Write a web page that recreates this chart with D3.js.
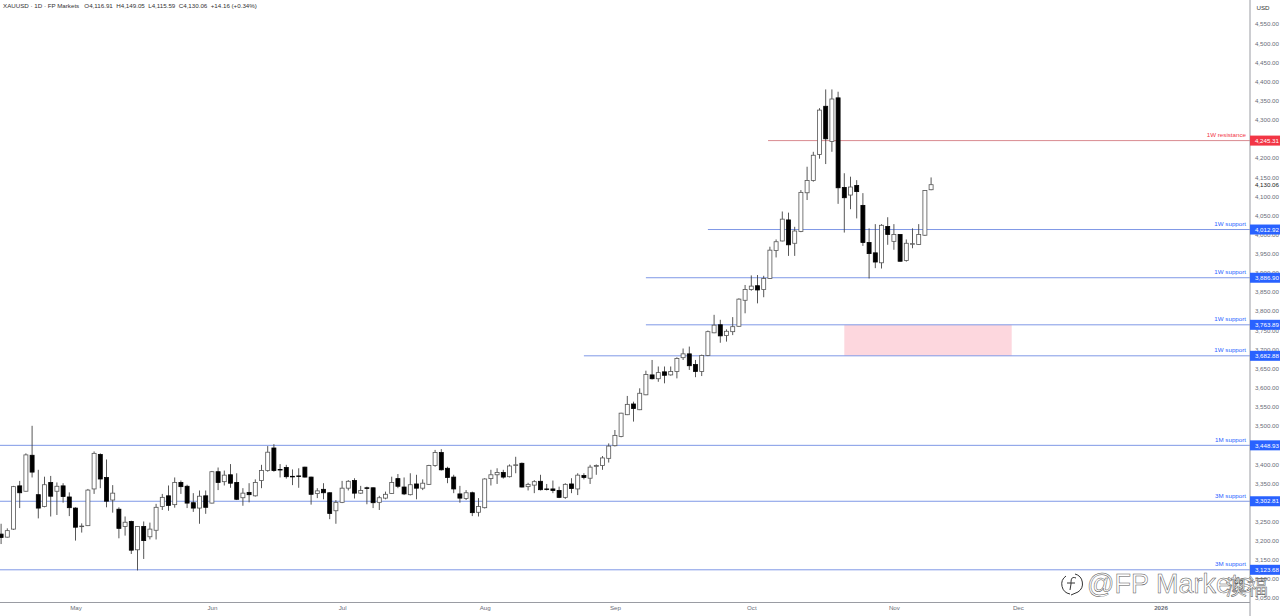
<!DOCTYPE html>
<head>
  <meta charset="utf-8">
  <script src="https://cdn.jsdelivr.net/npm/d3@7/dist/d3.min.js"></script>
  <style>
    html, body { margin: 0; padding: 0; background: #fff; overflow: hidden; }
    text { font-family: "Liberation Sans", Arial, sans-serif; }
    .axis text { font-size: 6.2px; fill: #6a6d78; }
    .axis path, .axis line { display: none; }
  </style>
</head>
<body>
  <script>
    // daily candles, first one sits half cut off at the left edge
    var opens = [
      3217,3209,3230,3343,3329,3423,3320,3289,3352,3329,3343,3314,3285,3237,3239,3335,3425,3365,3306,3282,3237,3250,3176,3237,3210,3227,3289,3317,3294,3352,3342,3299,3285,3317,3298,3380,3354,3372,3352,
      3312,3326,3317,3357,3383,3442,3386,3391,3368,3369,3392,3366,3323,3334,3325,3278,3300,3337,3357,3324,3338,3338,3300,3311,3323,3362,3340,3320,3348,3337,3347,3396,3430,3389,3366,3322,3310,3325,3274,
      3286,3362,3372,3378,3367,3397,3402,3341,3345,3355,3335,3335,3331,3313,3348,3335,3370,3363,3394,3396,3415,3448,3472,3529,3557,3542,3581,3633,3623,3641,3633,3642,3678,3688,3660,3642,3684,
      3743,3764,3736,3746,3760,3828,3856,3866,3856,3885,3958,3983,4038,3977,4008,
      4109,4141,4209,4335,4243,4357,4123,4103,4128,4076,3979,3952,3926,4021,3982,4000,3932,3975,3974,3998,4116.91
    ];
    var highs = [
      3244,3232,3343,3356,3428,3500,3385,3367,3369,3352,3350,3326,3287,3245,3335,3433,3428,3412,3345,3287,3263,3252,3238,3250,3247,3296,3322,3344,3365,3357,3346,3324,3331,3331,3382,3391,3383,3400,3376,
      3337,3350,3360,3398,3447,3452,3400,3398,3386,3389,3393,3367,3337,3350,3326,3306,3356,3358,3363,3343,3341,3339,3317,3328,3367,3374,3365,3376,3372,3360,3398,3437,3439,3393,3372,3343,3332,3328,3311,
      3363,3385,3389,3385,3399,3419,3404,3351,3358,3372,3348,3357,3341,3350,3363,3376,3376,3398,3399,3421,3454,3489,3534,3578,3563,3598,3644,3672,3655,3655,3655,3679,3702,3707,3672,3686,3749,
      3790,3777,3752,3784,3833,3868,3893,3894,3892,3968,3987,4060,4057,4020,4116,
      4177,4216,4330,4379,4379,4373,4160,4151,4142,4108,4016,4027,4027,4045,4027,4001,3987,4016,4027,4116,4149.05
    ];
    var lows = [
      3191,3208,3228,3285,3328,3365,3258,3287,3263,3267,3299,3264,3200,3221,3238,3322,3337,3287,3273,3206,3213,3165,3122,3152,3203,3203,3280,3278,3286,3322,3285,3275,3244,3270,3297,3332,3344,3338,3306,
      3291,3300,3315,3337,3380,3380,3365,3362,3345,3338,3365,3294,3311,3308,3256,3244,3298,3331,3310,3322,3295,3285,3280,3308,3322,3337,3319,3318,3308,3332,3346,3393,3383,3350,3324,3299,3306,3264,3263,
      3284,3344,3348,3362,3365,3376,3339,3331,3324,3331,3331,3324,3311,3309,3324,3319,3360,3348,3372,3385,3404,3446,3470,3528,3511,3541,3580,3621,3615,3611,3631,3624,3672,3646,3627,3630,3682,
      3742,3717,3720,3737,3759,3794,3853,3820,3836,3884,3940,3982,3944,3944,4006,
      4090,4138,4198,4184,4216,4080,4005,4066,4042,3970,3885,3912,3911,3973,3960,3929,3929,3964,3973,3996,4115.59
    ];
    var closes = [
      3208,3226,3341,3325,3424,3379,3285,3346,3316,3342,3315,3286,3235,3238,3332,3428,3361,3303,3324,3232,3248,3175,3237,3200,3230,3287,3313,3292,3352,3341,3298,3285,3316,3287,3380,3352,3371,3350,3308,
      3324,3320,3352,3383,3431,3383,3385,3367,3367,3368,3366,3321,3330,3325,3271,3300,3337,3355,3324,3331,3337,3299,3312,3321,3352,3342,3322,3346,3337,3350,3396,3430,3385,3365,3335,3311,3325,3273,3289,
      3361,3372,3378,3366,3395,3398,3340,3347,3354,3333,3334,3331,3313,3347,3336,3371,3365,3392,3396,3416,3447,3475,3533,3556,3545,3585,3634,3623,3639,3632,3642,3676,3688,3657,3642,3684,3746,
      3763,3735,3747,3759,3831,3856,3865,3855,3885,3959,3981,4040,3973,4009,4110,
      4141,4207,4325,4250,4354,4122,4096,4124,4112,3979,3950,3928,4024,4000,4000,3930,3977,3976,4000,4115,4130.06
    ];

    // horizontal levels drawn on the chart
    var levelValues = [4245.31, 4012.92, 3886.90, 3763.89, 3682.88, 3448.93, 3302.81, 3123.68];
    var levelNames = ["1W resistance", "1W support", "1W support", "1W support", "1W support", "1M support", "3M support", "3M support"];
    var levelStarts = [122.7, 113, 103, 103, 93, -2, -2, -2];

    // pink zone, between two of the levels
    var zoneTop = 3763.89, zoneBottom = 3682.88, zoneStart = 135, zoneEnd = 162;

    var monthLabels = ["May", "Jun", "Jul", "Aug", "Sep", "Oct", "Nov", "Dec", "2026"];
    var monthBars = [11, 33, 54, 77, 98, 120, 143, 163, 186];

    var priceTicks = d3.range(3050, 4551, 50);
    var lastClose = 4130.06;

    var width = 1280, height = 616,
        axisX = 1250, axisY = 602.5;

    var svg = d3.select("body").append("svg")
        .attr("width", width)
        .attr("height", height)
        .style("display", "block");

    // bar 0 of the arrays is the cut off one, so the scale starts at -1
    var x = d3.scaleLinear().domain([-1, 149]).range([1.1, 931.1]);
    var y = d3.scaleLinear().domain([3050, 4550]).range([598, 24]);
    var barIndex = function (d, i){ return i - 1; };
    var blue = "#2962ff", red = "#f23645";

    // pink zone
    svg.append("rect")
        .attr("x", x(zoneStart))
        .attr("y", y(zoneTop))
        .attr("width", x(zoneEnd) - x(zoneStart))
        .attr("height", y(zoneBottom) - y(zoneTop))
        .attr("fill", "#fdd7de");

    // level lines
    svg.selectAll(".level")
        .data(levelValues)
      .enter().append("line")
        .attr("class", "level")
        .attr("x1", function (d, i){ return x(levelStarts[i]); })
        .attr("x2", axisX)
        .attr("y1", y)
        .attr("y2", y)
        .attr("stroke", function (d, i){ return i === 0 ? "#d98a90" : "#7f98e6"; })
        .attr("stroke-width", 1);

    svg.selectAll(".levelName")
        .data(levelValues)
      .enter().append("text")
        .attr("class", "levelName")
        .attr("x", axisX - 4)
        .attr("y", function (d){ return y(d) - 3.5; })
        .attr("text-anchor", "end")
        .attr("font-size", 6.2)
        .attr("fill", function (d, i){ return i === 0 ? red : blue; })
        .text(function (d, i){ return levelNames[i]; });

    // candles: wicks first, then the bodies on top
    var candles = svg.append("g");
    candles.selectAll(".wick")
        .data(opens)
      .enter().append("line")
        .attr("class", "wick")
        .attr("x1", function (d, i){ return x(barIndex(d, i)); })
        .attr("x2", function (d, i){ return x(barIndex(d, i)); })
        .attr("y1", function (d, i){ return y(highs[i]); })
        .attr("y2", function (d, i){ return y(lows[i]); })
        .attr("stroke", "#444")
        .attr("stroke-width", 0.9);

    candles.selectAll(".body")
        .data(opens)
      .enter().append("rect")
        .attr("class", "body")
        .attr("x", function (d, i){ return x(barIndex(d, i)) - 2; })
        .attr("width", 4)
        .attr("y", function (d, i){ return y(Math.max(d, closes[i])); })
        .attr("height", function (d, i){ return Math.max(0.6, Math.abs(y(d) - y(closes[i]))); })
        .attr("fill", function (d, i){ return closes[i] < d ? "#000" : "#fff"; })
        .attr("stroke", function (d, i){ return closes[i] < d ? "#000" : "#555"; })
        .attr("stroke-width", 0.8);

    // axes
    var priceAxis = d3.axisRight(y)
        .tickValues(priceTicks)
        .tickSize(0)
        .tickPadding(0)
        .tickFormat(d3.format(",.2f"));

    var axisR = svg.append("g")
        .attr("class", "axis")
        .attr("transform", "translate(" + axisX + ",0)")
        .call(priceAxis);
    axisR.selectAll("text")
        .attr("x", 29)
        .attr("text-anchor", "end");

    var timeAxis = d3.axisBottom(x)
        .tickValues(monthBars)
        .tickSize(0)
        .tickPadding(0)
        .tickFormat(function (d, i){ return monthLabels[i]; });

    var axisB = svg.append("g")
        .attr("class", "axis")
        .attr("transform", "translate(0," + axisY + ")")
        .call(timeAxis);
    axisB.selectAll("text").attr("y", 3);
    axisB.selectAll("text").filter(function (d){ return d === 186; })
        .style("font-weight", "bold");

    svg.append("line")
        .attr("x1", axisX).attr("x2", axisX)
        .attr("y1", 0).attr("y2", height)
        .attr("stroke", "#9a9ca3");
    svg.append("line")
        .attr("x1", 0).attr("x2", axisX)
        .attr("y1", axisY).attr("y2", axisY)
        .attr("stroke", "#9a9ca3");

    svg.append("text")
        .attr("x", 1256.5)
        .attr("y", 10)
        .attr("font-size", 6.2)
        .attr("fill", "#333")
        .text("USD");

    // last price, plain text
    svg.append("text")
        .attr("x", 1279)
        .attr("y", y(lastClose) + 2.2)
        .attr("text-anchor", "end")
        .attr("font-size", 6.2)
        .attr("fill", "#222")
        .text(d3.format(",.2f")(lastClose));

    // level badges on the axis
    svg.selectAll(".badge")
        .data(levelValues)
      .enter().append("rect")
        .attr("class", "badge")
        .attr("x", axisX)
        .attr("y", function (d){ return y(d) - 5; })
        .attr("width", 30)
        .attr("height", 10)
        .attr("fill", function (d, i){ return i === 0 ? red : blue; });

    svg.selectAll(".badgeText")
        .data(levelValues)
      .enter().append("text")
        .attr("class", "badgeText")
        .attr("x", 1279)
        .attr("y", function (d){ return y(d) + 2.2; })
        .attr("text-anchor", "end")
        .attr("font-size", 6.2)
        .attr("fill", "#fff")
        .text(d3.format(",.2f"));

    // header
    var header = svg.append("text")
        .attr("x", 3)
        .attr("y", 8.2)
        .attr("font-size", 6.2)
        .attr("fill", "#333")
        .attr("xml:space", "preserve");
    header.text("XAUUSD · 1D · FP Markets   O4,116.91  H4,149.05  L4,115.59  C4,130.06  +14.16 (+0.34%)");

    // watermark, white letters with a thin dark edge
    var mark = svg.append("g")
        .attr("fill", "#fff")
        .attr("stroke", "#555")
        .attr("stroke-width", 0.5);
    mark.append("text")
        .attr("x", 1087)
        .attr("y", 593)
        .attr("font-size", 27)
        .attr("font-family", "Noto Sans")
        .attr("font-weight", 300)
        .text("@FP Markets");
    mark.append("text")
        .attr("x", 1226)
        .attr("y", 594)
        .attr("font-size", 21)
        .attr("font-family", "Noto Sans CJK SC")
        .text("澳福");
    mark.append("path")
        .attr("d", "M1066 576 A10 10 0 0 0 1070 594 M1075 574 A10 10 0 0 1 1078 592 L1071 595 M1076 578 C1071 576 1071 580 1071 584 L1070 590 M1067 583 L1075 583")
        .attr("fill", "none")
        .attr("stroke", "#333")
        .attr("stroke-width", 1);
  </script>
</body>
